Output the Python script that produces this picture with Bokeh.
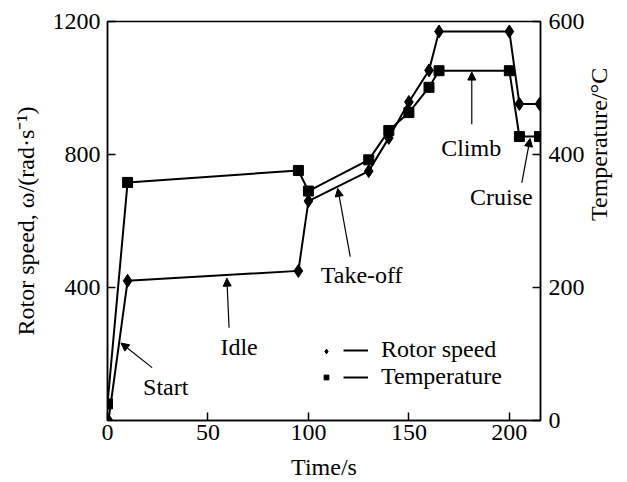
import math
from bokeh.plotting import figure
from bokeh.models import (Range1d, LinearAxis, FixedTicker, Arrow, NormalHead,
                          ColumnDataSource, LabelSet, Legend, LegendItem)
from bokeh.embed import file_html
from bokeh.resources import INLINE

# ---- data ----
time_rotor = [0.5, 10, 95, 100, 130, 140, 150, 160, 165, 200, 205, 215]
rotor_speed = [0, 420, 450, 660, 750, 850, 958, 1053, 1170, 1170, 952, 952]
time_temp = [0, 10, 95, 100, 130, 140, 150, 160, 165, 200, 205, 215]
temperature = [25, 358, 376, 345, 392, 436, 463, 501, 526, 526, 427, 427]

x_ticks = [0, 50, 100, 150, 200]
left_ticks = [400, 800, 1200]
right_ticks = [0, 200, 400, 600]

phase_labels = ["Start", "Idle", "Take-off", "Climb", "Cruise"]
phase_label_x = [29, 65.5, 126.5, 181, 196]
phase_label_y = [102, 222, 438, 819, 673]
arrow_x0 = [22.2, 60.5, 120.8, 181.3, 206.2]
arrow_y0 = [159, 279, 493, 891, 715]
arrow_x1 = [6.7, 59.4, 114.6, 181.3, 210.3]
arrow_y1 = [233, 428, 698, 1048, 848]

FONT = "'Liberation Serif', 'Times New Roman', serif"
FS = "24px"

p = figure(width=627, height=482, output_backend="svg", toolbar_location=None,
           x_range=Range1d(0, 215.5), y_range=Range1d(0, 1200),
           min_border_left=107, min_border_right=87, min_border_top=21,
           min_border_bottom=61)
p.extra_y_ranges = {"temp": Range1d(0, 600)}
p.grid.visible = False
p.outline_line_color = "black"
p.outline_line_width = 1.5
p.background_fill_color = "white"
p.border_fill_color = "white"

right_axis = LinearAxis(y_range_name="temp")
p.add_layout(right_axis, "right")

p.xaxis.ticker = FixedTicker(ticks=x_ticks)
p.yaxis[0].ticker = FixedTicker(ticks=left_ticks)
right_axis.ticker = FixedTicker(ticks=right_ticks)

p.xaxis.axis_label = "Time/s"
p.yaxis[0].axis_label = "Rotor speed, ω/(rad·s⁻¹)"
right_axis.axis_label = "Temperature/°C"
right_axis.axis_label_orientation = math.pi / 2

for ax in [p.xaxis[0], p.yaxis[0], right_axis]:
    ax.major_tick_in = 8
    ax.major_tick_out = 0
    ax.minor_tick_line_color = None
    ax.axis_line_width = 1.5
    ax.major_tick_line_width = 1.5
    ax.axis_line_color = "black"
    ax.major_tick_line_color = "black"
    ax.major_label_text_font = FONT
    ax.major_label_text_font_size = FS
    ax.major_label_text_color = "black"
    ax.axis_label_text_font = FONT
    ax.axis_label_text_font_size = FS
    ax.axis_label_text_font_style = "normal"
    ax.axis_label_text_color = "black"

p.xaxis.major_label_standoff = 4
p.xaxis.axis_label_standoff = 11
p.yaxis[0].major_label_standoff = 7
p.yaxis[0].axis_label_standoff = 11
right_axis.major_label_standoff = 8
right_axis.axis_label_standoff = 11

# ---- series ----
rl = p.line(time_rotor, rotor_speed, line_color="black", line_width=2)
rm = p.scatter(time_rotor, rotor_speed, marker="diamond", size=13,
               fill_color="black", line_color="black")
tl = p.line(time_temp, temperature, line_color="black", line_width=2,
            y_range_name="temp")
tm = p.scatter(time_temp, temperature, marker="square", size=10,
               fill_color="black", line_color="black", y_range_name="temp")

# ---- annotations ----
asrc = ColumnDataSource(dict(x0=arrow_x0, y0=arrow_y0, x1=arrow_x1, y1=arrow_y1))
p.add_layout(Arrow(source=asrc, x_start="x0", y_start="y0", x_end="x1", y_end="y1",
                   line_color="black", line_width=1.2,
                   end=NormalHead(size=8, fill_color="black", line_color="black")))
lsrc = ColumnDataSource(dict(x=phase_label_x, y=phase_label_y, t=phase_labels))
p.add_layout(LabelSet(source=lsrc, x="x", y="y", text="t", text_align="center",
                      text_baseline="middle", text_font=FONT, text_font_size=FS,
                      text_color="black"))

# ---- legend: markers column + lines/labels column ----
common = dict(padding=0, margin=0, spacing=0, border_line_alpha=0,
              background_fill_alpha=0, glyph_height=26, label_height=26)
leg_markers = Legend(items=[LegendItem(label=" ", renderers=[rm]),
                            LegendItem(label=" ", renderers=[tm])],
                     location=(213, 30), glyph_width=12, label_standoff=0,
                     label_text_font_size="1px", label_width=1, **common)
leg_lines = Legend(items=[LegendItem(label="Rotor speed", renderers=[rl]),
                          LegendItem(label="Temperature", renderers=[tl])],
                   location=(236, 30), glyph_width=25, label_standoff=13,
                   label_text_font=FONT, label_text_font_size=FS,
                   label_text_color="black", **common)
p.add_layout(leg_markers, "center")
p.add_layout(leg_lines, "center")

open("out.html", "w").write(file_html(p, INLINE))
